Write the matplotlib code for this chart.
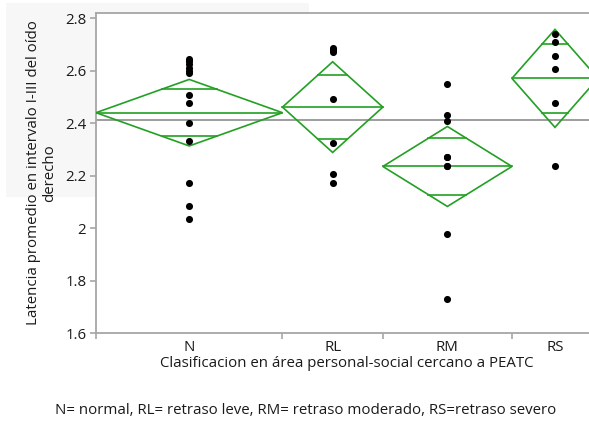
import numpy as np
import matplotlib
matplotlib.use("Agg")
import matplotlib.pyplot as plt
from matplotlib.patches import Polygon, Rectangle

plt.rcParams['font.family'] = ['Open Sans', 'DejaVu Sans']

# Groups and individual observations (latency, ms)
categories = ["N", "RL", "RM", "RS"]
values_N = [2.645, 2.635, 2.625, 2.61, 2.60, 2.59, 2.507, 2.478, 2.401,
            2.331, 2.170, 2.083, 2.036]
values_RL = [2.685, 2.68, 2.67, 2.49, 2.325, 2.204, 2.17]
values_RM = [2.55, 2.431, 2.408, 2.271, 2.271, 2.236, 2.236, 1.978, 1.729]
values_RS = [2.74, 2.71, 2.655, 2.605, 2.475, 2.235]
groups = [values_N, values_RL, values_RM, values_RS]

y_ticks = [1.6, 1.8, 2.0, 2.2, 2.4, 2.6, 2.8]
y_tick_labels = ["1.6", "1.8", "2", "2.2", "2.4", "2.6", "2.8"]

t_crit = 2.0395  # t(0.975, df=31)

GREEN = "#23a023"
SPINE = "#a6a6a6"
TEXT = "#1a1a1a"
FS = 10.8

W, H = 589, 421
fig = plt.figure(figsize=(W / 100, H / 100), dpi=100)

# light panel behind the axis title area
fig.add_artist(Rectangle((6 / W, 1 - 197 / H), (309 - 6) / W, (197 - 3) / H,
                         transform=fig.transFigure, facecolor="#f7f7f7",
                         edgecolor="none", zorder=-5))

left, right, top, bottom = 96, 598, 13, 333
ax = fig.add_axes([left / W, 1 - bottom / H, (right - left) / W, (bottom - top) / H])
ax.set_facecolor("white")

# one-way ANOVA summary: group means and pooled-variance confidence diamonds
ns = np.array([len(g) for g in groups])
means = np.array([np.mean(g) for g in groups])
sse = sum(np.sum((np.array(g) - m) ** 2) for g, m in zip(groups, means))
df = ns.sum() - len(groups)
s_pooled = np.sqrt(sse / df)
half_ci = t_crit * s_pooled / np.sqrt(ns)
grand_mean = np.mean(np.concatenate(groups))

edges = np.concatenate([[0], np.cumsum(ns)])
centers = (edges[:-1] + edges[1:]) / 2

ax.axhline(grand_mean, color="#8c8c8c", lw=1.2, zorder=2)

for i, g in enumerate(groups):
    x0, x1, xc = edges[i], edges[i + 1], centers[i]
    m, d = means[i], half_ci[i]
    diamond = Polygon([(x0, m), (xc, m + d), (x1, m), (xc, m - d)], closed=True,
                      fill=False, edgecolor=GREEN, lw=1.2, zorder=3)
    ax.add_patch(diamond)
    ax.plot([x0, x1], [m, m], color=GREEN, lw=1.2, zorder=3)
    h = d / np.sqrt(2)
    hw = (x1 - x0) / 2 * (1 - h / d)
    for yy in (m + h, m - h):
        ax.plot([xc - hw, xc + hw], [yy, yy], color=GREEN, lw=1.2, zorder=3)
    ax.scatter(np.full(len(g), xc), g, s=26, color="black", zorder=4, linewidths=0)

ax.set_xlim(0, edges[-1])
ax.set_ylim(1.6, 2.8 + 5 / 261.7)

ax.set_yticks(y_ticks)
ax.set_yticklabels(y_tick_labels)
ax.set_xticks(centers)
ax.set_xticklabels(categories)
ax.set_xticks(edges, minor=True)
ax.tick_params(axis="x", which="major", length=0, pad=5, labelsize=FS, labelcolor=TEXT)
ax.tick_params(axis="x", which="minor", length=4, color=SPINE, width=1.2)
ax.tick_params(axis="y", length=4, color=SPINE, width=1.2, labelsize=FS,
               labelcolor=TEXT, pad=3)

for side in ("left", "bottom", "top"):
    ax.spines[side].set_color(SPINE)
    ax.spines[side].set_linewidth(1.3)
ax.spines["right"].set_visible(False)

ax.set_xlabel("Clasificacion en área personal-social cercano a PEATC",
              fontsize=FS, color=TEXT, labelpad=1)
ax.set_ylabel("Latencia promedio en intervalo I-III del oído\nderecho",
              fontsize=FS, color=TEXT, labelpad=6, linespacing=1.1)

fig.text(306 / W, 1 - 410 / H,
         "N= normal, RL= retraso leve, RM= retraso moderado, RS=retraso severo",
         ha="center", va="center", fontsize=FS, color=TEXT)

fig.savefig("out.png", dpi=100)
